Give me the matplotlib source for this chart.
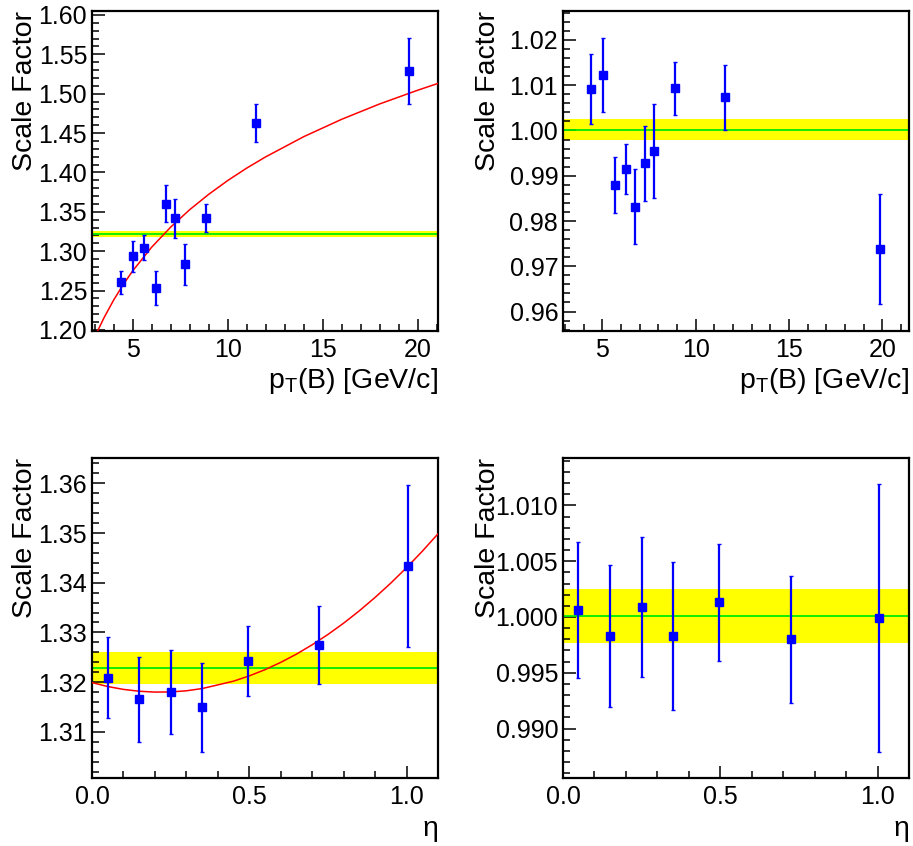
import numpy as np
import matplotlib
matplotlib.use("Agg")
import matplotlib.pyplot as plt
from matplotlib.ticker import MultipleLocator, FormatStrFormatter

plt.rcParams['font.family'] = ['Liberation Sans', 'DejaVu Sans']
plt.rcParams['mathtext.fontset'] = 'custom'
plt.rcParams['mathtext.rm'] = 'Liberation Sans'
plt.rcParams['mathtext.it'] = 'Liberation Sans:italic'

# --- top left: scale factor vs pT (fit) ---
pt_a = [4.37, 5.00, 5.61, 6.25, 6.75, 7.25, 7.75, 8.88, 11.49, 19.54]
sf_a = [1.2605, 1.2935, 1.3046, 1.2533, 1.3600, 1.3418, 1.2834, 1.3418, 1.4633, 1.5289]
err_a = [0.0150, 0.0193, 0.0157, 0.0210, 0.0235, 0.0245, 0.0263, 0.0176, 0.0242, 0.0423]
band_a = (1.3219, 0.0039)
curve_a_x = [3.16, 3.5, 4, 4.5, 5, 6, 7, 8, 9, 10, 11, 12, 14, 16, 18, 20, 21.1]
curve_a_y = [1.1990, 1.2159, 1.2380, 1.2575, 1.2750, 1.3051, 1.3306, 1.3527, 1.3722,
             1.3897, 1.4055, 1.4198, 1.4454, 1.4675, 1.4870, 1.5044, 1.5133]

# --- top right: scale factor vs pT (after correction) ---
pt_b = [4.41, 5.04, 5.66, 6.27, 6.75, 7.27, 7.77, 8.90, 11.55, 19.87]
sf_b = [1.0092, 1.0123, 0.9880, 0.9915, 0.9832, 0.9928, 0.9954, 1.0093, 1.0073, 0.9738]
err_b = [0.0078, 0.0082, 0.0062, 0.0056, 0.0082, 0.0083, 0.0104, 0.0058, 0.0071, 0.0122]
band_b = (1.0002, 0.0024)

# --- bottom left: scale factor vs eta (fit) ---
eta_c = [0.05, 0.15, 0.25, 0.35, 0.495, 0.723, 1.004]
sf_c = [1.3209, 1.3165, 1.3180, 1.3149, 1.3243, 1.3275, 1.3434]
err_c = [0.0081, 0.0086, 0.0084, 0.0090, 0.0070, 0.0078, 0.0163]
band_c = (1.3229, 0.0032)
curve_c_x = [0.0, 0.05, 0.1, 0.15, 0.2, 0.25, 0.3, 0.35, 0.4, 0.45, 0.5, 0.55,
             0.6, 0.65, 0.7, 0.75, 0.8, 0.85, 0.9, 0.95, 1.0, 1.05, 1.1]
curve_c_y = [1.31990, 1.31911, 1.31853, 1.31816, 1.31799, 1.31802, 1.31825, 1.31870,
             1.31944, 1.32019, 1.32125, 1.32250, 1.32397, 1.32563, 1.32751, 1.32958,
             1.33186, 1.33435, 1.33704, 1.33993, 1.34303, 1.34633, 1.34984]

# --- bottom right: scale factor vs eta (after correction) ---
eta_d = [0.049, 0.149, 0.25, 0.349, 0.495, 0.724, 1.005]
sf_d = [1.0006, 0.9983, 1.0009, 0.9983, 1.0013, 0.9980, 0.9999]
err_d = [0.0061, 0.0064, 0.0063, 0.0066, 0.0052, 0.0057, 0.0120]
band_d = (1.0001, 0.0024)

fig = plt.figure(figsize=(9.13, 8.46), dpi=100)
W, H = 913.0, 846.0

def make_ax(left, top, right, bottom):
    return fig.add_axes([left / W, 1 - bottom / H, (right - left) / W, (bottom - top) / H])

def style(ax, xlim, ylim, xmaj, xmin, xfmt, ymaj, ymin, yfmt):
    ax.set_xlim(*xlim)
    ax.set_ylim(*ylim)
    ax.xaxis.set_major_locator(MultipleLocator(xmaj))
    ax.xaxis.set_minor_locator(MultipleLocator(xmin))
    ax.yaxis.set_major_locator(MultipleLocator(ymaj))
    ax.yaxis.set_minor_locator(MultipleLocator(ymin))
    ax.xaxis.set_major_formatter(FormatStrFormatter(xfmt))
    ax.yaxis.set_major_formatter(FormatStrFormatter(yfmt))
    ax.tick_params(which='both', direction='in', top=False, right=False,
                   labelsize=18, width=1.1, color='black')
    ax.tick_params(which='major', length=9)
    ax.tick_params(which='minor', length=5)
    ax.tick_params(axis='y', pad=3.5)
    ax.tick_params(axis='x', pad=5)
    for s in ax.spines.values():
        s.set_linewidth(1.6)

def draw(ax, x, y, e, band, cx=None, cy=None):
    ax.axhspan(band[0] - band[1], band[0] + band[1], color='#ffff00', lw=0, zorder=1)
    ax.axhline(band[0], color='#00ee00', lw=1.3, zorder=2)
    if cx is not None:
        ax.plot(cx, cy, color='red', lw=1.1, zorder=3)
    ax.errorbar(x, y, yerr=e, fmt='s', color='#0000ff', ms=5.5, elinewidth=1.6,
                capsize=1.6, capthick=1.0, zorder=4)

def labels(ax, xlab, xpad, ylab_x):
    ax.set_ylabel('Scale Factor', fontsize=20.5, loc='top')
    ax.yaxis.set_label_coords(ylab_x, 1.0)
    ax.set_xlabel(xlab, fontsize=20.5, loc='right', labelpad=xpad)

ax1 = make_ax(92, 11, 438, 331)
draw(ax1, pt_a, sf_a, err_a, band_a, curve_a_x, curve_a_y)
style(ax1, (2.86, 21.07), (1.1987, 1.605), 5, 1, '%d', 0.05, 0.01, '%.2f')
labels(ax1, r'$\mathrm{p_{T}}$(B) [GeV/c]', 3, -0.155)

ax2 = make_ax(563, 11, 909, 331)
draw(ax2, pt_b, sf_b, err_b, band_b)
style(ax2, (2.885, 21.43), (0.9557, 1.0264), 5, 1, '%d', 0.01, 0.002, '%.2f')
labels(ax2, r'$\mathrm{p_{T}}$(B) [GeV/c]', 3, -0.18)

ax3 = make_ax(92, 458, 438, 778)
draw(ax3, eta_c, sf_c, err_c, band_c, curve_c_x, curve_c_y)
style(ax3, (0.0, 1.1), (1.3007, 1.3651), 0.5, 0.1, '%.1f', 0.01, 0.002, '%.2f')
labels(ax3, 'η', 5, -0.155)

ax4 = make_ax(563, 458, 909, 778)
draw(ax4, eta_d, sf_d, err_d, band_d)
style(ax4, (0.0, 1.1), (0.98557, 1.01425), 0.5, 0.1, '%.1f', 0.005, 0.001, '%.3f')
labels(ax4, 'η', 5, -0.18)

fig.savefig('out.png', dpi=100)
